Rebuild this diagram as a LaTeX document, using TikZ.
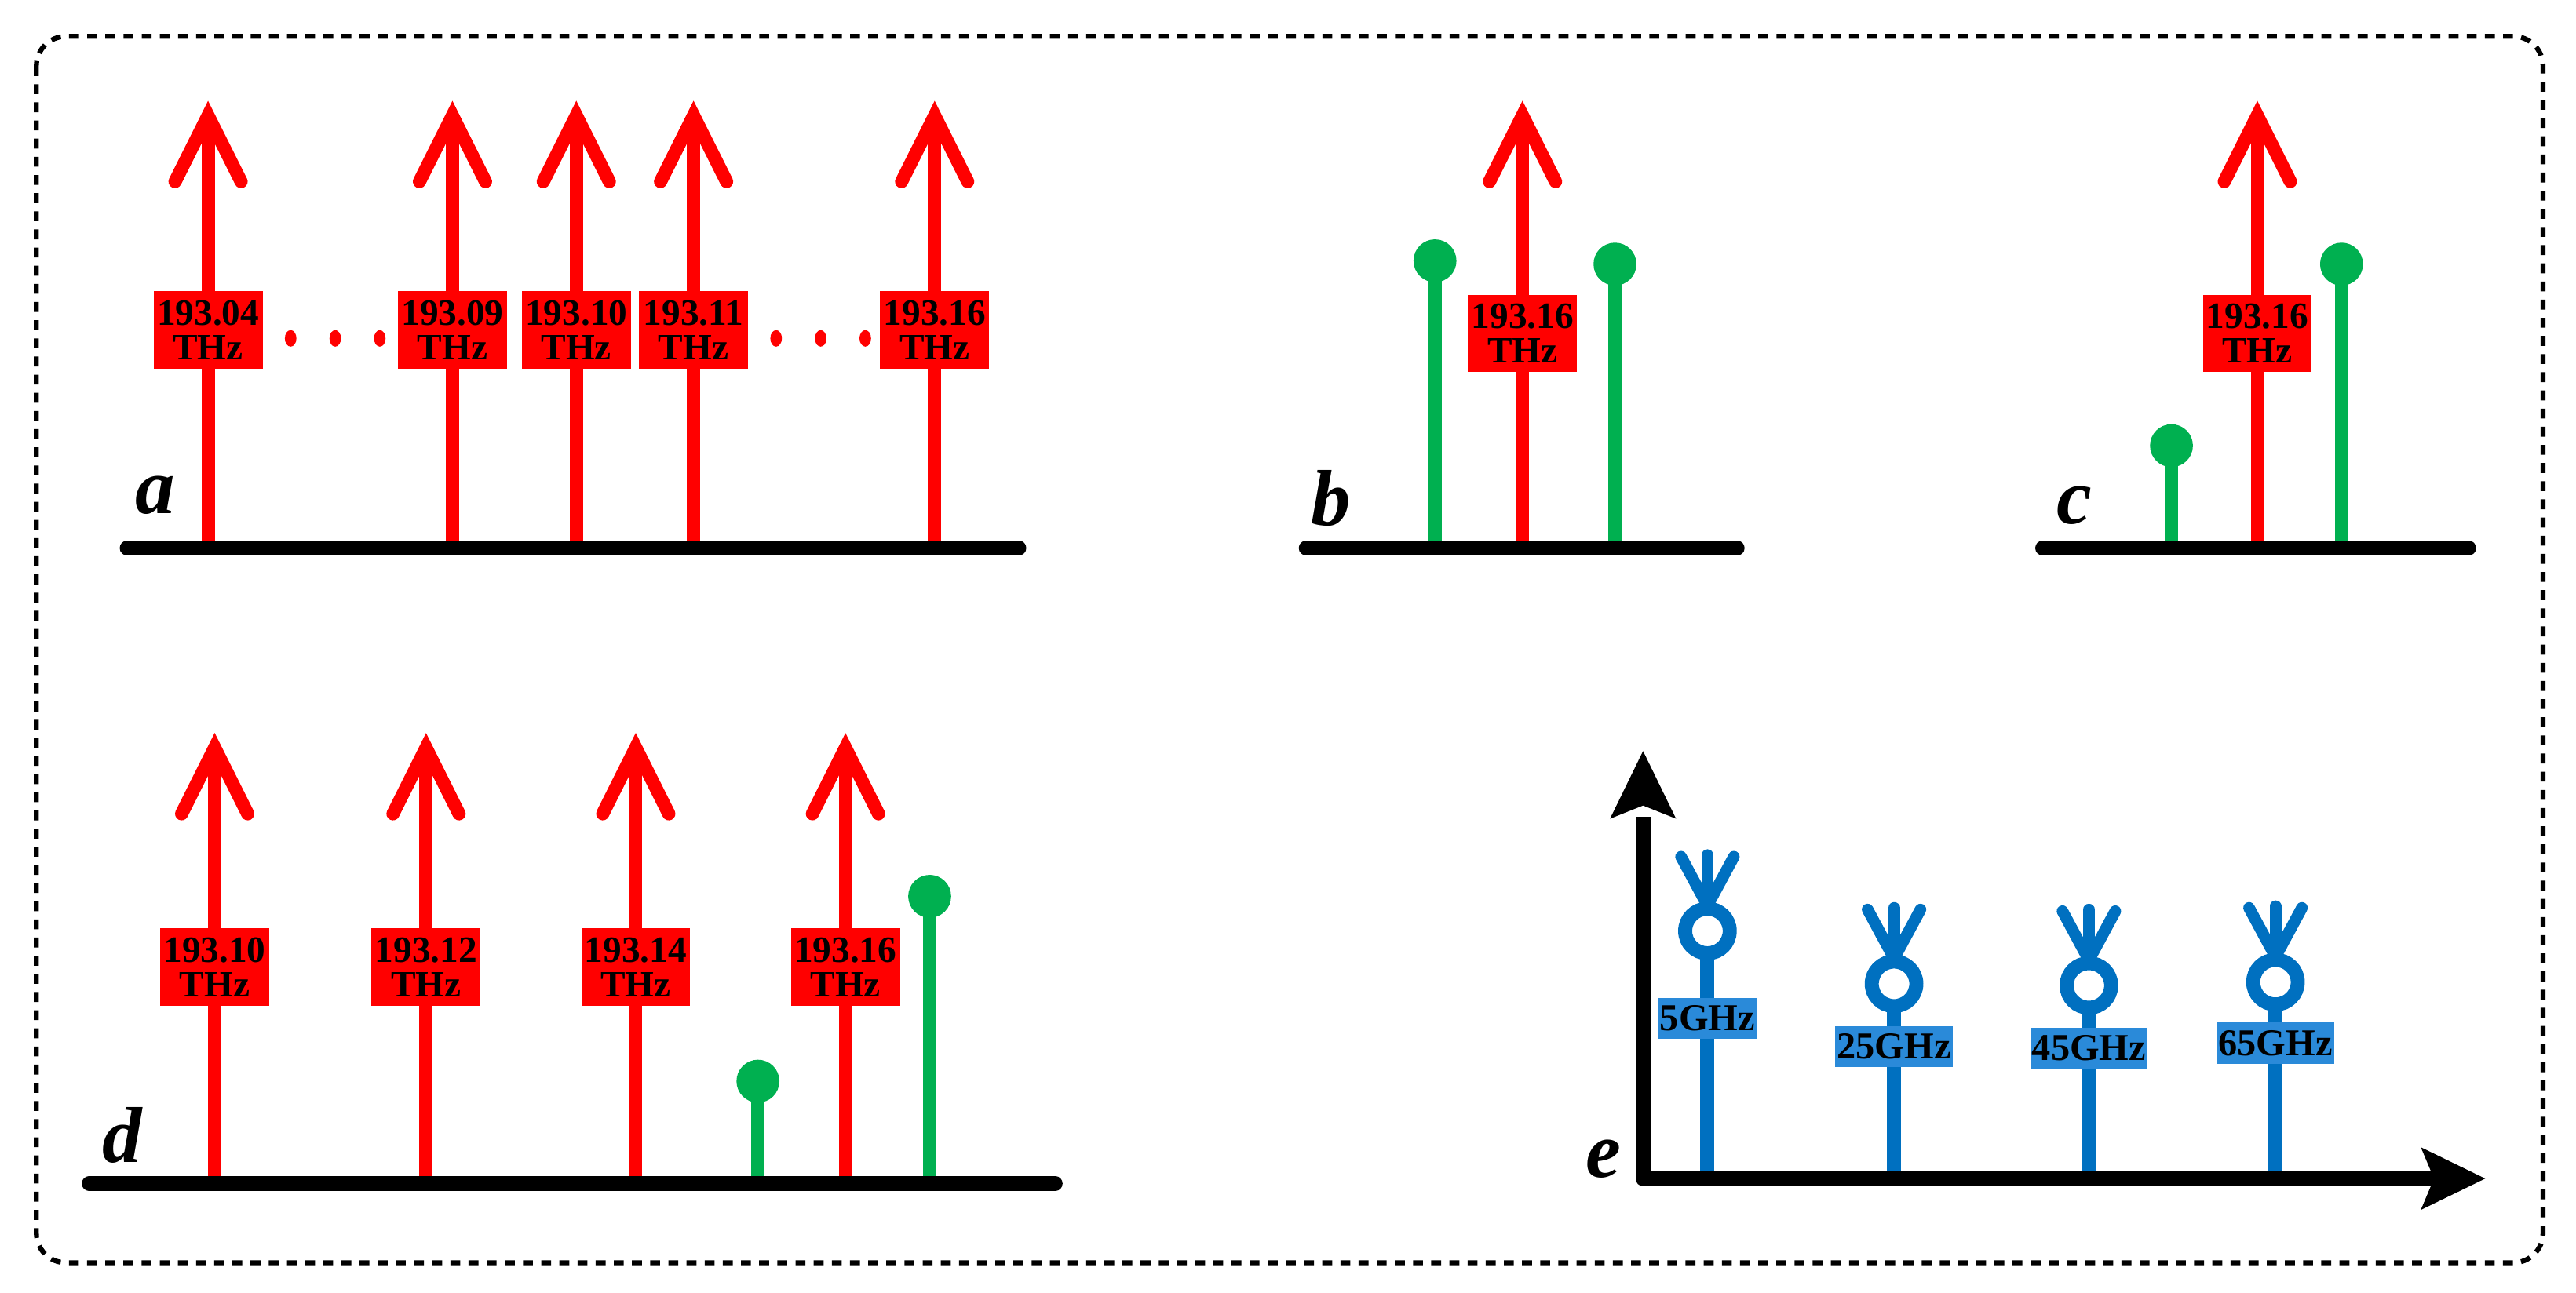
\documentclass[tikz,border=0pt]{standalone}
\usepackage{fontspec}
\setmainfont{Liberation Serif}
\begin{document}
\begin{tikzpicture}[x=1pt,y=-1pt,
  base/.style={line width=9pt,line cap=round},
  shaft/.style={red,line width=8pt},
  head/.style={red,line width=8pt,line cap=round,line join=miter},
  bstem/.style={bluec,line width=8.5pt},
  flab/.style={fill=red,text=black,font=\fontsize{22.5}{21}\selectfont\bfseries,align=center,inner sep=0.5pt,minimum width=66pt,minimum height=47pt},
  glab/.style={fill=bluel,text=black,font=\fontsize{23}{23}\selectfont\bfseries,inner sep=0.5pt,minimum height=25pt},
  plet/.style={font=\fontsize{48}{48}\selectfont\bfseries\itshape},
  axis/.style={line width=9pt}]
\definecolor{gstem}{HTML}{00B050}
\definecolor{bluec}{HTML}{0070C0}
\definecolor{bluel}{HTML}{2A8AD9}
\tikzset{stem/.style={gstem,line width=8pt}}
\useasboundingbox (0,0) rectangle (1560,783);
\draw[line width=3pt,dash pattern=on 6pt off 5pt,rounded corners=18pt] (22,22) rectangle (1540,765);
\newcommand{\rarrow}[3]{% x, tip y, base y
  \draw[shaft] (#1,#3) -- (#1,#2+4);
  \draw[head] (#1-20,#2+40) -- (#1,#2) -- (#1+20,#2+40);
}
\newcommand{\gstem}[3]{% x, circle y, base y
  \draw[stem] (#1,#3) -- (#1,#2);
  \fill[gstem] (#1,#2) circle (13);
}
\newcommand{\ant}[3]{% x, ring y, base y
  \draw[bstem] (#1,#3) -- (#1,#2+17);
  \draw[bluec,line width=8.5pt] (#1,#2) circle (13.5);
  \draw[bluec,line width=7pt,line cap=round] (#1,#2-19) -- (#1,#2-46);
  \draw[bluec,line width=7pt,line cap=round] (#1-2,#2-19) -- (#1-16,#2-45);
  \draw[bluec,line width=7pt,line cap=round] (#1+2,#2-19) -- (#1+16,#2-45);
}
% panel a
\foreach \x in {126,274,349,420,566} {\rarrow{\x}{70}{330}}
\draw[base] (77,332) -- (617,332);
\node[flab] (a1) at (126,200) {193.04\\THz};
\node[flab] (a2) at (274,200) {193.09\\THz};
\node[flab] (a3) at (349,200) {193.10\\THz};
\node[flab] (a4) at (420,200) {193.11\\THz};
\node[flab] (a5) at (566,200) {193.16\\THz};
\foreach \x in {176,203,230,470,497,524} \fill[red] (\x,205) ellipse (3.5 and 5);
\node[plet] (la) at (94,300) {a};
% panel b
\gstem{869}{158}{330}
\gstem{978}{160}{335}
\rarrow{922}{70}{330}
\draw[base] (791,332) -- (1052,332);
\node[flab] (b1) at (922,202) {193.16\\THz};
\node[plet] (lb) at (806,302) {b};
% panel c
\gstem{1315}{270}{330}
\gstem{1418}{160}{330}
\rarrow{1367}{70}{330}
\draw[base] (1237,332) -- (1495,332);
\node[flab] (c1) at (1367,202) {193.16\\THz};
\node[plet] (lc) at (1256,306) {c};
% panel d
\foreach \x in {130,258,385,512} {\rarrow{\x}{453}{715}}
\gstem{459}{655}{715}
\gstem{563}{543}{715}
\draw[base] (54,717) -- (639,717);
\node[flab] (d1) at (130,586) {193.10\\THz};
\node[flab] (d2) at (258,586) {193.12\\THz};
\node[flab] (d3) at (385,586) {193.14\\THz};
\node[flab] (d4) at (512,586) {193.16\\THz};
\node[plet] (ld) at (74,688) {d};
% panel e
\ant{1034}{564}{712}
\ant{1147}{596}{712}
\ant{1265}{597}{712}
\ant{1378}{595}{712}
\node[glab,minimum width=60pt] (e1) at (1034,617) {5GHz};
\node[glab,minimum width=71pt] (e2) at (1147,634) {25GHz};
\node[glab,minimum width=71pt] (e3) at (1265,635) {45GHz};
\node[glab,minimum width=71pt] (e4) at (1378,632) {65GHz};
\draw[axis,line join=round] (995,495) -- (995,714) -- (1475,714);
\fill (995,455) -- (1015,496) -- (995,488) -- (975,496) -- cycle;
\fill (1505,714) -- (1466,733) -- (1474,714) -- (1466,695) -- cycle;
\node[plet] (le) at (971,702) {e};
\end{tikzpicture}
\end{document}
